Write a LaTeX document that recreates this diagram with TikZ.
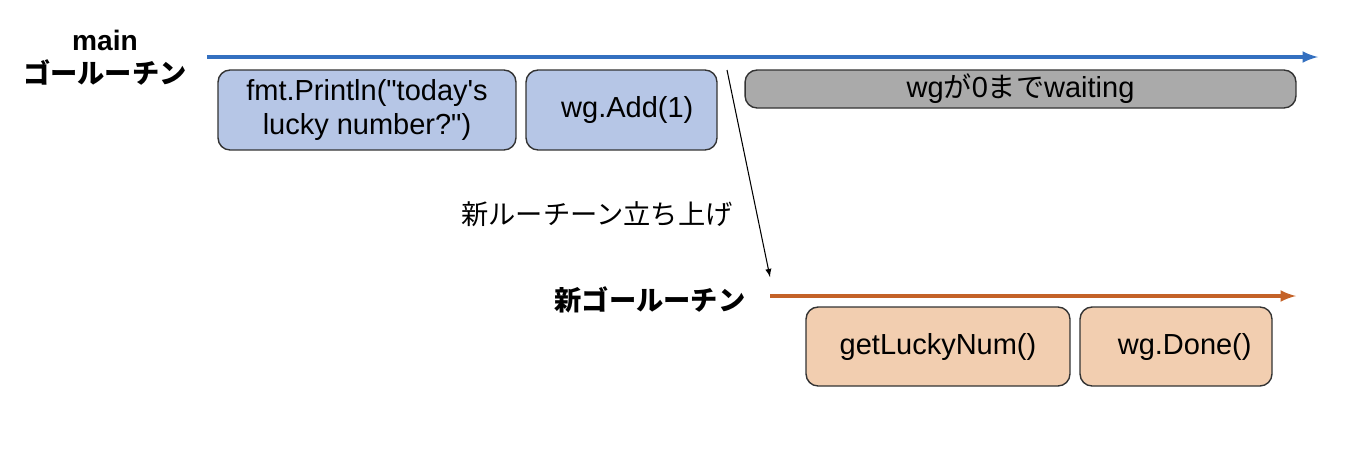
\documentclass[tikz,border=0pt]{standalone}
\usepackage{fontspec}
\setmainfont{Liberation Sans}[Ligatures=TeXOff]
\newfontfamily\jp{Noto Sans CJK JP}[Scale=0.97]
\usepackage{tikz}
\usetikzlibrary{positioning}
\usetikzlibrary{calc}
\definecolor{mainblue}{RGB}{52,112,192}
\definecolor{neworange}{RGB}{196,98,40}
\definecolor{bluebox}{RGB}{182,198,230}
\definecolor{orangebox}{RGB}{242,206,176}
\definecolor{graybox}{RGB}{170,170,170}
\tikzset{every picture/.style={line width=0.8pt},
  stepbox/.style={draw=black!80,rounded corners=1.3ex,align=center,inner sep=0pt,font=\fontsize{16.5}{19}\selectfont},
  lane/.style={line width=2pt,-latex},
  lanelabel/.style={font=\bfseries\fontsize{16}{19}\selectfont,align=center}}

\begin{document}
\begin{tikzpicture}[x=0.02cm,y=-0.02cm]
\useasboundingbox (0,0) rectangle (1358,474);
% main goroutine
\node (mainlbl) at (105,58) [lanelabel] {main\\{\jp ゴールーチン}};
\coordinate (mainstart) at (207,57);
\coordinate (mainend) at (1318,57);
\draw[lane,mainblue] (mainstart) -- (mainend);
\node (println) at (367,110) [stepbox,fill=bluebox,minimum width=5.96cm,minimum height=1.6cm] {fmt.Println("today's\\lucky number?")};
\node (wgadd) at (621.5,110) [stepbox,fill=bluebox,minimum width=3.82cm,minimum height=1.6cm] {\hspace{0.4em}wg.Add(1)};
\node (waiting) at (1020.5,89) [stepbox,fill=graybox,minimum width=11.02cm,minimum height=0.76cm] {wg{\jp が}0{\jp まで}waiting};
% new goroutine
\node (newlbl) at (650,300) [lanelabel] {\jp 新ゴールーチン};
\coordinate (newstart) at (770,296);
\coordinate (newend) at (1296,296);
\draw[lane,neworange] (newstart) -- (newend);
\node (lucky) at (938,346.5) [stepbox,fill=orangebox,minimum width=5.28cm,minimum height=1.58cm] {getLuckyNum()};
\node (done) at (1176,346.5) [stepbox,fill=orangebox,minimum width=3.84cm,minimum height=1.58cm] {\hspace{0.6em}wg.Done()};
% spawn
\coordinate (spawn) at (727,70);
\coordinate (spawned) at ($(newstart)+(0,-19)$);
\draw[-latex,line width=0.6pt] (spawn) -- (spawned);
\node (spawnlbl) at (597,214) [font=\jp\fontsize{16}{19}\selectfont] {新ルーチーン立ち上げ};
\end{tikzpicture}
\end{document}
